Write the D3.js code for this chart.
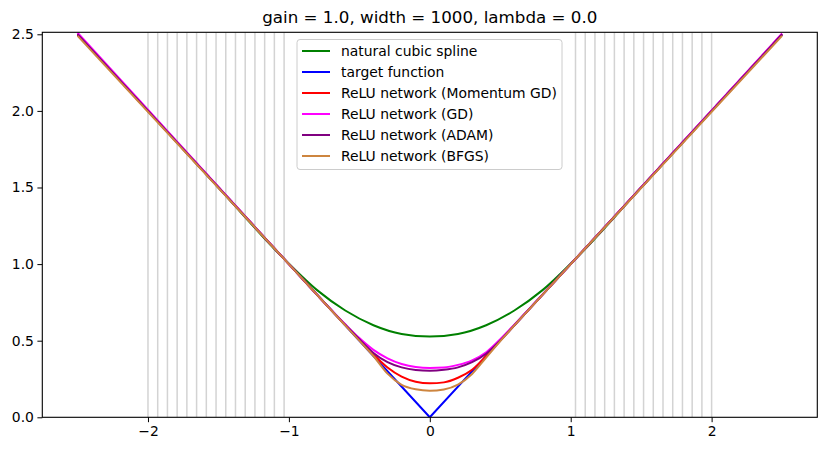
<!DOCTYPE html>
<html><head><meta charset="utf-8">
<script src="https://cdn.jsdelivr.net/npm/d3@7"></script>
<style>body{margin:0;background:#fff}svg{font-family:"DejaVu Sans",sans-serif}</style>
</head><body>
<svg id="c" width="826" height="451"></svg>
<script>
const titleText = "gain = 1.0, width = 1000, lambda = 0.0";
const xTicks = [-2, -1, 0, 1, 2];
const yTicks = [0.0, 0.5, 1.0, 1.5, 2.0, 2.5];
// training points (vertical grey lines)
const knotsLeft = [-2, -1.931, -1.862, -1.793, -1.724, -1.655, -1.586, -1.517, -1.448, -1.379, -1.310, -1.241, -1.172, -1.103, -1.034];
const knotsRight = [1.034, 1.103, 1.172, 1.241, 1.310, 1.379, 1.448, 1.517, 1.586, 1.655, 1.724, 1.793, 1.862, 1.931, 2];
// target
const targetX = [-2.5, 0, 2.5];
const targetY = [2.5, 0, 2.5];
// natural cubic spline
const splineX = [-2.5, -2, -1.5, -1.034, -0.8, -0.6, -0.4, -0.2, 0, 0.2, 0.4, 0.6, 0.8, 1.034, 1.5, 2, 2.5];
const splineY = [2.5, 2.0, 1.5, 1.034, 0.83, 0.697, 0.601, 0.544, 0.527, 0.544, 0.601, 0.697, 0.83, 1.034, 1.5, 2.0, 2.5];
// ReLU networks
const reluX = [-2.5, -1, -0.7, -0.6, -0.5, -0.4, -0.3, -0.2, -0.1, 0, 0.1, 0.2, 0.3, 0.4, 0.5, 0.6, 0.7, 1, 2.5];
const momentumY = [2.5, 1.0, 0.7, 0.602, 0.505, 0.41, 0.325, 0.265, 0.232, 0.222, 0.228, 0.258, 0.31, 0.40, 0.5, 0.6, 0.7, 1.0, 2.5];
const gdY       = [2.51, 1.0, 0.702, 0.607, 0.517, 0.44, 0.385, 0.348, 0.328, 0.322, 0.325, 0.342, 0.372, 0.425, 0.51, 0.605, 0.703, 1.0, 2.505];
const adamY     = [2.5, 1.0, 0.701, 0.604, 0.51, 0.42, 0.36, 0.326, 0.309, 0.304, 0.31, 0.326, 0.36, 0.415, 0.502, 0.602, 0.701, 1.0, 2.5];
const bfgsY     = [2.49, 1.0, 0.7, 0.6, 0.5, 0.40, 0.285, 0.212, 0.183, 0.174, 0.182, 0.213, 0.283, 0.39, 0.497, 0.6, 0.7, 1.0, 2.49];

const series = [
  {label: "natural cubic spline", color: "green", x: splineX, y: splineY, curve: d3.curveMonotoneX},
  {label: "target function", color: "blue", x: targetX, y: targetY, curve: d3.curveLinear},
  {label: "ReLU network (Momentum GD)", color: "red", x: reluX, y: momentumY, curve: d3.curveMonotoneX},
  {label: "ReLU network (GD)", color: "magenta", x: reluX, y: gdY, curve: d3.curveMonotoneX},
  {label: "ReLU network (ADAM)", color: "purple", x: reluX, y: adamY, curve: d3.curveMonotoneX},
  {label: "ReLU network (BFGS)", color: "#CD853F", x: reluX, y: bfgsY, curve: d3.curveMonotoneX}
];

const L = 42.3, R = 817.3, T = 32.3, B = 417.3;
const x = d3.scaleLinear().domain([-2.75, 2.75]).range([L, R]);
const y = d3.scaleLinear().domain([0, 2.513]).range([B, T]);
const svg = d3.select("#c");

svg.append("defs").append("clipPath").attr("id","clip")
  .append("rect").attr("x",L).attr("y",T).attr("width",R-L).attr("height",B-T);
const plot = svg.append("g").attr("clip-path","url(#clip)");

plot.selectAll("line.knot").data(knotsLeft.concat(knotsRight)).join("line")
  .attr("class","knot").attr("x1",d=>x(d)).attr("x2",d=>x(d))
  .attr("y1",T).attr("y2",B).attr("stroke","#d3d3d3").attr("stroke-width",1.5);

series.forEach(s => {
  const pts = s.x.map((v,i)=>[v, s.y[i]]);
  plot.append("path").datum(pts)
    .attr("d", d3.line().x(d=>x(d[0])).y(d=>y(d[1])).curve(s.curve))
    .attr("fill","none").attr("stroke", s.color).attr("stroke-width",2);
});

// axes
const xAxis = svg.append("g").attr("transform",`translate(0,${B})`)
  .call(d3.axisBottom(x).tickValues(xTicks).tickFormat(d=>d3.format("d")(d).replace("-","\u2212")).tickSizeOuter(0).tickSize(4.9).tickPadding(3.5));
const yAxis = svg.append("g").attr("transform",`translate(${L},0)`)
  .call(d3.axisLeft(y).tickValues(yTicks).tickFormat(d3.format(".1f")).tickSizeOuter(0).tickSize(4.9).tickPadding(3.5));
[xAxis, yAxis].forEach(a => {
  a.select(".domain").remove();
  a.selectAll("text").attr("font-size","13.9px").attr("fill","#000").attr("font-family","DejaVu Sans");
  a.selectAll("line").attr("stroke","#000").attr("stroke-width",1);
});
svg.append("rect").attr("x",L).attr("y",T).attr("width",R-L).attr("height",B-T)
  .attr("fill","none").attr("stroke","#000").attr("stroke-width",1.1);

svg.append("text").attr("x",(L+R)/2).attr("y",23).attr("text-anchor","middle")
  .attr("font-size","16.7px").attr("fill","#000").text(titleText);

// legend
const lg = svg.append("g");
lg.append("rect").attr("x",297).attr("y",39.5).attr("width",265).attr("height",130).attr("rx",3)
  .attr("fill","#fff").attr("fill-opacity",0.8).attr("stroke","#ccc").attr("stroke-width",1);
series.forEach((s,i) => {
  const yy = 51 + i*21;
  lg.append("line").attr("x1",302).attr("x2",330).attr("y1",yy).attr("y2",yy)
    .attr("stroke",s.color).attr("stroke-width",2);
  lg.append("text").attr("x",341).attr("y",yy+5).attr("font-size","13.9px").attr("fill","#000").text(s.label);
});
</script>
</body></html>
